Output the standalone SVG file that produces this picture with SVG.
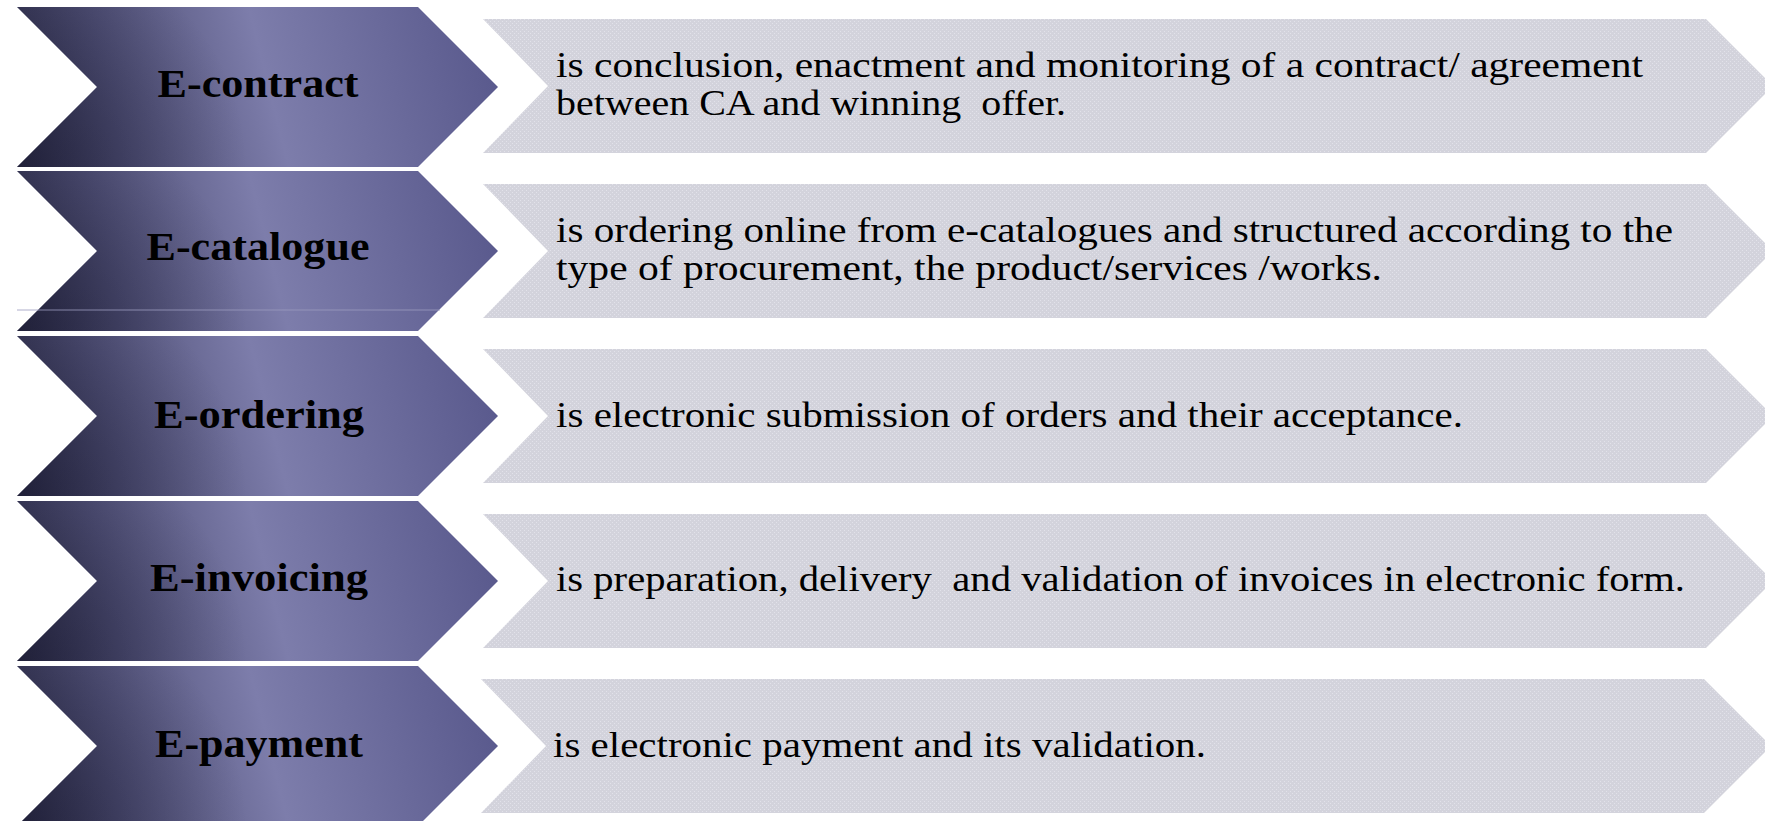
<svg xmlns="http://www.w3.org/2000/svg" width="1765" height="821" viewBox="0 0 1765 821">
  <style>
    .lbl { font-family: "Liberation Serif", "Times New Roman", serif; font-weight: bold; font-size: 40px; fill: #000; text-anchor: middle; }
    .desc { font-family: "Liberation Serif", "Times New Roman", serif; font-size: 36px; fill: #000; }
  </style>
  <defs>
    <linearGradient id="chevGrad" gradientUnits="userSpaceOnUse" x1="0" y1="110" x2="500" y2="-15">
      <stop offset="0" stop-color="#2c2c47"/>
      <stop offset="0.22" stop-color="#4e4e74"/>
      <stop offset="0.52" stop-color="#7d7dab"/>
      <stop offset="1" stop-color="#56568a"/>
    </linearGradient>
    <radialGradient id="chevShade" gradientUnits="userSpaceOnUse" cx="17" cy="160" r="230">
      <stop offset="0" stop-color="#101025" stop-opacity="0.45"/>
      <stop offset="1" stop-color="#101025" stop-opacity="0"/>
    </radialGradient>
    <pattern id="dots" patternUnits="userSpaceOnUse" width="4" height="4">
      <rect width="4" height="4" fill="#d3d3dc"/>
      <rect x="0" y="0" width="1" height="1" fill="#e2e2ea"/>
      <rect x="2" y="2" width="1" height="1" fill="#e2e2ea"/>
    </pattern>
    <path id="chev" d="M17,0 H418 L498,80 L418,160 H17 L97,80 Z"/>
    <path id="arrow" d="M483,0 H1706 L1773,67 L1706,134 H483 L548,67 Z"/>
  </defs>
  <rect width="1765" height="821" fill="#ffffff"/>

  <g id="node-econtract">
    <g transform="translate(0,7)">
      <use href="#chev" fill="url(#chevGrad)"/>
      <use href="#chev" fill="url(#chevShade)"/>
    </g>
    <text class="lbl" x="258" y="97" textLength="201" lengthAdjust="spacingAndGlyphs">E-contract</text>
  </g>
  <g id="desc-econtract">
    <use href="#arrow" fill="url(#dots)" transform="translate(0,19)"/>
    <text class="desc" x="556" y="77" textLength="1087" lengthAdjust="spacingAndGlyphs">is conclusion, enactment and monitoring of a contract/ agreement</text>
    <text class="desc" x="556" y="115" xml:space="preserve" textLength="510" lengthAdjust="spacingAndGlyphs">between CA and winning  offer.</text>
  </g>

  <g id="node-ecatalogue">
    <g transform="translate(0,171)">
      <use href="#chev" fill="url(#chevGrad)"/>
      <use href="#chev" fill="url(#chevShade)"/>
      <line x1="17" y1="139" x2="440" y2="139" stroke="#9c9cbf" stroke-width="1" opacity="0.8"/>
    </g>
    <text class="lbl" x="258" y="260" textLength="223" lengthAdjust="spacingAndGlyphs">E-catalogue</text>
  </g>
  <g id="desc-ecatalogue">
    <use href="#arrow" fill="url(#dots)" transform="translate(0,184)"/>
    <text class="desc" x="556" y="242" textLength="1117" lengthAdjust="spacingAndGlyphs">is ordering online from e-catalogues and structured according to the</text>
    <text class="desc" x="556" y="280" textLength="826" lengthAdjust="spacingAndGlyphs">type of procurement, the product/services /works.</text>
  </g>

  <g id="node-eordering">
    <g transform="translate(0,336)">
      <use href="#chev" fill="url(#chevGrad)"/>
      <use href="#chev" fill="url(#chevShade)"/>
    </g>
    <text class="lbl" x="259" y="428" textLength="210" lengthAdjust="spacingAndGlyphs">E-ordering</text>
  </g>
  <g id="desc-eordering">
    <use href="#arrow" fill="url(#dots)" transform="translate(0,349)"/>
    <text class="desc" x="556" y="427" textLength="907" lengthAdjust="spacingAndGlyphs">is electronic submission of orders and their acceptance.</text>
  </g>

  <g id="node-einvoicing">
    <g transform="translate(0,501)">
      <use href="#chev" fill="url(#chevGrad)"/>
      <use href="#chev" fill="url(#chevShade)"/>
    </g>
    <text class="lbl" x="259" y="591" textLength="218" lengthAdjust="spacingAndGlyphs">E-invoicing</text>
  </g>
  <g id="desc-einvoicing">
    <use href="#arrow" fill="url(#dots)" transform="translate(0,514)"/>
    <text class="desc" x="556" y="591" xml:space="preserve" textLength="1129" lengthAdjust="spacingAndGlyphs">is preparation, delivery  and validation of invoices in electronic form.</text>
  </g>

  <g id="node-epayment">
    <g transform="translate(0,666)">
      <use href="#chev" fill="url(#chevGrad)"/>
      <use href="#chev" fill="url(#chevShade)"/>
    </g>
    <text class="lbl" x="259" y="757" textLength="208" lengthAdjust="spacingAndGlyphs">E-payment</text>
  </g>
  <g id="desc-epayment">
    <use href="#arrow" fill="url(#dots)" transform="translate(-2,679)"/>
    <text class="desc" x="553" y="757" textLength="653" lengthAdjust="spacingAndGlyphs">is electronic payment and its validation.</text>
  </g>

  <g id="connectors"/>
</svg>
